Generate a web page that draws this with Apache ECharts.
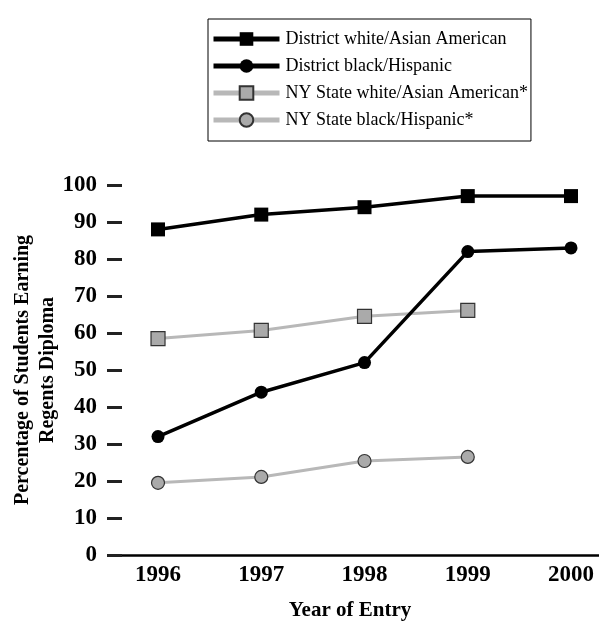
<!DOCTYPE html>
<html>
<head>
<meta charset="utf-8">
<script src="https://cdn.jsdelivr.net/npm/echarts@6/dist/echarts.min.js"></script>
<style>
html,body{margin:0;padding:0;background:#fff;}
#chart{width:599px;height:621px;}
</style>
</head>
<body>
<div id="chart"></div>
<script>
var years = [1996, 1997, 1998, 1999, 2000];
var seriesNames = [
  'District white/Asian American',
  'District black/Hispanic',
  'NY State white/Asian American*',
  'NY State black/Hispanic*'
];
var districtWhiteAsian = [88, 92, 94, 97, 97];
var districtBlackHispanic = [32, 44, 52, 82, 83];
var stateWhiteAsian = [58.5, 60.7, 64.5, 66.1];
var stateBlackHispanic = [19.5, 21.1, 25.4, 26.5];

function pairs(vals) {
  return vals.map(function (v, i) { return [years[i], v]; });
}

var serif = '"Liberation Serif", "DejaVu Serif", serif';
var chart = echarts.init(document.getElementById('chart'), null, {renderer: 'canvas'});

function mk(name, vals, symbol, lineColor, fill, border) {
  return {
    name: name,
    type: 'line',
    data: pairs(vals),
    symbol: symbol,
    symbolSize: symbol === 'rect' ? 14 : 13,
    showSymbol: true,
    lineStyle: {color: lineColor, width: lineColor === '#000' ? 3.5 : 3},
    itemStyle: {color: fill, borderColor: border || fill, borderWidth: border ? 1.2 : 0},
    emphasis: {disabled: true},
    animation: false,
    z: lineColor === '#000' ? 3 : 2
  };
}

chart.setOption({
  backgroundColor: '#fff',
  animation: false,
  legend: {
    orient: 'vertical',
    left: 208,
    top: 19,
    padding: [11, 3, 12, 3],
    itemWidth: 66,
    itemHeight: 17,
    itemGap: 9,
    borderColor: '#000',
    borderWidth: 1,
    lineStyle: {width: 5},
    textStyle: {fontFamily: serif, fontSize: 18, lineHeight: 17, color: '#000', padding: [0, 0, 0, 1]},
    data: seriesNames
  },
  grid: {left: 113, right: 0, top: 185, bottom: 66, containLabel: false, outerBoundsMode: 'none'},
  xAxis: {
    type: 'value',
    min: 1995.564,
    max: 2000.271,
    name: 'Year of Entry',
    nameLocation: 'middle',
    nameGap: 45,
    nameMoveOverlap: false,
    nameTextStyle: {fontFamily: serif, fontSize: 21, fontWeight: 'bold', color: '#000', padding: [0, 12, 0, 0]},
    axisLine: {show: true, lineStyle: {color: '#000', width: 2.5}},
    axisTick: {show: false},
    splitLine: {show: false},
    axisLabel: {
      customValues: years,
      formatter: function (v) { return String(v); },
      margin: 9,
      fontFamily: serif, fontSize: 23, fontWeight: 'bold', color: '#000'
    }
  },
  yAxis: {
    type: 'value',
    min: 0,
    max: 100,
    interval: 10,
    offset: -9,
    name: 'Percentage of Students Earning\nRegents Diploma',
    nameLocation: 'middle',
    nameGap: 62,
    nameMoveOverlap: false,
    nameTextStyle: {fontFamily: serif, fontSize: 20, fontWeight: 'bold', color: '#000', lineHeight: 25},
    axisLine: {show: false},
    axisTick: {show: true, length: 15, lineStyle: {color: '#222', width: 3}},
    splitLine: {show: false},
    axisLabel: {margin: 25, fontFamily: serif, fontSize: 23, fontWeight: 'bold', color: '#000'}
  },
  series: [
    mk(seriesNames[0], districtWhiteAsian, 'rect', '#000', '#000', null),
    mk(seriesNames[1], districtBlackHispanic, 'circle', '#000', '#000', null),
    mk(seriesNames[2], stateWhiteAsian, 'rect', '#b8b8b8', '#aaaaaa', '#333'),
    mk(seriesNames[3], stateBlackHispanic, 'circle', '#b8b8b8', '#aaaaaa', '#333')
  ]
});
</script>
</body>
</html>
